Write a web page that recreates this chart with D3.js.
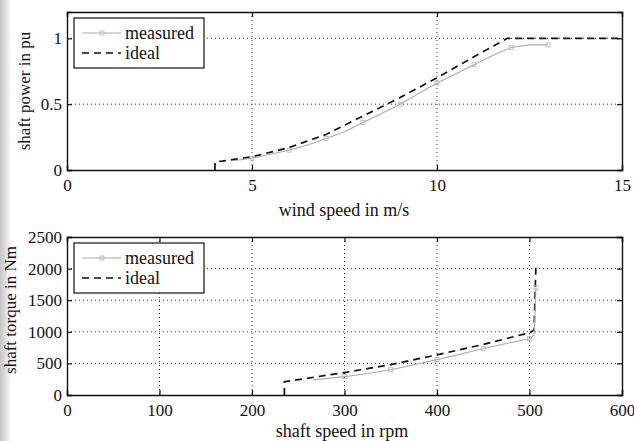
<!DOCTYPE html>
<html>
<head>
<meta charset="utf-8">
<script src="https://cdn.jsdelivr.net/npm/d3@7"></script>
<style>
  body { margin: 0; background: #fff; }
  svg text { font-family: "Liberation Serif", "Times New Roman", "DejaVu Serif", serif !important; }
</style>
</head>
<body>
<svg id="chart" width="634" height="441"></svg>
<script>
// top panel: shaft power vs wind speed
const windIdeal = [4, 4, 5, 6, 7, 8, 9, 10, 11, 11.9, 15];
const powerIdeal = [0, 0.06, 0.10, 0.17, 0.27, 0.41, 0.55, 0.70, 0.86, 1.0, 1.0];
const windMeasured = [4.5, 5, 5.5, 6, 6.5, 7, 7.5, 8, 8.5, 9, 9.5, 10, 10.5, 11, 11.5, 12, 12.5, 13];
const powerMeasured = [0.07, 0.09, 0.12, 0.15, 0.19, 0.24, 0.29, 0.36, 0.43, 0.50, 0.58, 0.66, 0.73, 0.80, 0.87, 0.93, 0.95, 0.95];
const windTicks = [0, 5, 10, 15];
const powerTicks = [0, 0.5, 1];

// bottom panel: shaft torque vs shaft speed
const speedIdeal = [235, 235, 300, 350, 400, 450, 500, 505, 507];
const torqueIdeal = [0, 210, 355, 480, 635, 800, 985, 1030, 2090];
const speedMeasured = [266, 300, 325, 350, 375, 400, 425, 450, 475, 500, 505, 507];
const torqueMeasured = [240, 290, 340, 400, 480, 560, 645, 735, 815, 890, 950, 1700];
const speedTicks = [0, 100, 200, 300, 400, 500, 600];
const torqueTicks = [0, 500, 1000, 1500, 2000, 2500];

const seriesNames = ["measured", "ideal"];
const serif = "'Liberation Serif', 'Times New Roman', 'DejaVu Serif', serif";

const svg = d3.select("#chart");

// scanned paper edge
const grad = svg.append("defs").append("linearGradient").attr("id", "edge");
grad.append("stop").attr("offset", "0%").attr("stop-color", "#c4c4c4");
grad.append("stop").attr("offset", "100%").attr("stop-color", "#fff");
svg.append("rect").attr("x", 0).attr("y", 0).attr("width", 12).attr("height", 441).attr("fill", "url(#edge)");

function drawPanel(cfg) {
  const { left, right, top, bottom } = cfg.box;
  const x = d3.scaleLinear().domain(cfg.xDomain).range([left, right]);
  const y = d3.scaleLinear().domain(cfg.yDomain).range([bottom, top]);
  const g = svg.append("g");

  // dotted grid
  g.append("g").selectAll("line").data(cfg.xTicks.slice(1, -1)).join("line")
    .attr("x1", d => x(d)).attr("x2", d => x(d))
    .attr("y1", top).attr("y2", bottom)
    .attr("stroke", "#333").attr("stroke-width", 1).attr("stroke-dasharray", "1,3");
  g.append("g").selectAll("line").data(cfg.yTicks.filter(d => d > cfg.yDomain[0] && d < cfg.yDomain[1])).join("line")
    .attr("x1", left).attr("x2", right)
    .attr("y1", d => y(d)).attr("y2", d => y(d))
    .attr("stroke", "#333").attr("stroke-width", 1).attr("stroke-dasharray", "1,3");

  // axes with inward ticks
  const xAx = g.append("g").attr("transform", `translate(0,${bottom})`)
    .call(d3.axisBottom(x).tickValues(cfg.xTicks).tickSize(-5).tickPadding(10).tickFormat(d3.format("")));
  const yAx = g.append("g").attr("transform", `translate(${left},0)`)
    .call(d3.axisLeft(y).tickValues(cfg.yTicks).tickSize(-5).tickPadding(5).tickFormat(d3.format("")));
  g.append("g").attr("transform", `translate(0,${top})`)
    .call(d3.axisTop(x).tickValues(cfg.xTicks).tickSize(-5).tickFormat(""));
  g.append("g").attr("transform", `translate(${right},0)`)
    .call(d3.axisRight(y).tickValues(cfg.yTicks).tickSize(-5).tickFormat(""));
  g.selectAll(".domain").attr("stroke", "#111").attr("stroke-width", 1.4);
  g.selectAll(".tick line").attr("stroke", "#111").attr("stroke-width", 1.2);
  [xAx, yAx].forEach(a => a.selectAll("text")
    .style("font-family", serif).attr("font-size", 17).attr("fill", "#111"));
  xAx.selectAll("text").attr("dy", "0.65em");

  const line = d3.line().x(d => x(d[0])).y(d => y(d[1]));

  // ideal
  g.append("path").datum(d3.zip(cfg.idealX, cfg.idealY))
    .attr("d", line).attr("fill", "none")
    .attr("stroke", "#111").attr("stroke-width", 1.7).attr("stroke-dasharray", "7,5");

  // measured
  const mData = d3.zip(cfg.measX, cfg.measY);
  g.append("path").datum(mData)
    .attr("d", line).attr("fill", "none")
    .attr("stroke", "#aaa").attr("stroke-width", 1.1);
  g.append("g").selectAll("rect").data(mData.filter((d, i) => i % 2 === 1)).join("rect")
    .attr("x", d => x(d[0]) - 2).attr("y", d => y(d[1]) - 2)
    .attr("width", 4).attr("height", 4)
    .attr("fill", "none").attr("stroke", "#b4b4b4").attr("stroke-width", 0.8);

  // labels
  svg.append("text").attr("x", cfg.xLabelPos[0]).attr("y", cfg.xLabelPos[1])
    .style("font-family", serif)
    .attr("text-anchor", "middle").attr("font-size", 18).attr("fill", "#111").text(cfg.xLabel);
  svg.append("text")
    .attr("transform", `translate(${cfg.yLabelPos[0]},${cfg.yLabelPos[1]}) rotate(-90)`)
    .style("font-family", serif)
    .attr("text-anchor", "middle").attr("font-size", 17).attr("fill", "#111").text(cfg.yLabel);

  // legend
  const lg = svg.append("g").attr("transform", `translate(${cfg.legend[0]},${cfg.legend[1]})`);
  lg.append("rect").attr("width", 130).attr("height", 50)
    .attr("fill", "#fff").attr("stroke", "#111").attr("stroke-width", 1.2);
  seriesNames.forEach((name, i) => {
    const yy = 15 + i * 20;
    if (name === "measured") {
      lg.append("line").attr("x1", 8).attr("x2", 47).attr("y1", yy).attr("y2", yy)
        .attr("stroke", "#aaa").attr("stroke-width", 1.1);
      lg.append("rect").attr("x", 26).attr("y", yy - 2).attr("width", 4).attr("height", 4)
        .attr("fill", "none").attr("stroke", "#b4b4b4").attr("stroke-width", 0.8);
    } else {
      lg.append("line").attr("x1", 8).attr("x2", 47).attr("y1", yy).attr("y2", yy)
        .attr("stroke", "#111").attr("stroke-width", 1.7).attr("stroke-dasharray", "7,5");
    }
    lg.append("text").attr("x", 51).attr("y", yy + 6)
      .style("font-family", serif).attr("font-size", 18).attr("fill", "#111").text(name);
  });
}

drawPanel({
  box: { left: 67, right: 622, top: 12, bottom: 170 },
  xDomain: [0, 15], yDomain: [0, 1.2],
  xTicks: windTicks, yTicks: powerTicks,
  idealX: windIdeal, idealY: powerIdeal,
  measX: windMeasured, measY: powerMeasured,
  xLabel: "wind speed in m/s", xLabelPos: [344, 216],
  yLabel: "shaft power in pu", yLabelPos: [30, 91],
  legend: [74, 18]
});

drawPanel({
  box: { left: 67, right: 622, top: 237, bottom: 395 },
  xDomain: [0, 600], yDomain: [0, 2500],
  xTicks: speedTicks, yTicks: torqueTicks,
  idealX: speedIdeal, idealY: torqueIdeal,
  measX: speedMeasured, measY: torqueMeasured,
  xLabel: "shaft speed in rpm", xLabelPos: [342, 437],
  yLabel: "shaft torque in Nm", yLabelPos: [16, 310],
  legend: [74, 243]
});
</script>
</body>
</html>
